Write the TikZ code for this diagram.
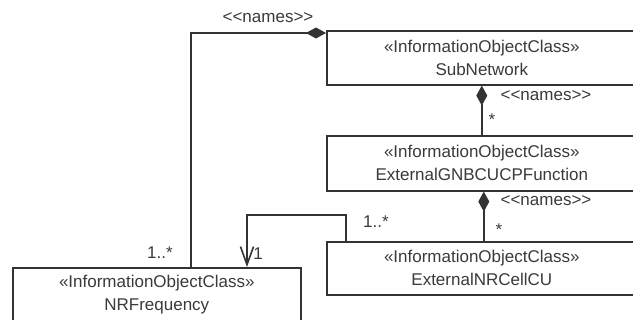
\documentclass[tikz,border=0pt]{standalone}
\usepackage{fontspec}
\setmainfont{Liberation Sans}
\usetikzlibrary{arrows.meta,calc}
\definecolor{ln}{HTML}{333333}
\definecolor{tx}{HTML}{3A3A3A}
\newcommand{\nm}{<\kern0pt<names>\kern0pt>}
\begin{document}
\begin{tikzpicture}[x=1pt,y=-1pt,
  ioc/.style={draw=ln,line width=1.6pt,rectangle,anchor=north west,minimum width=310pt,minimum height=54pt,inner sep=0pt,align=center,text=tx,font=\fontsize{17}{23}\selectfont},
  conn/.style={draw=ln,line width=1.6pt},
  lbl/.style={text=tx,font=\fontsize{17}{20}\selectfont,inner sep=0pt},
  comp/.style={conn,{Diamond[length=20pt,width=11pt,fill=ln]}-},
  nav/.style={conn,-{Straight Barb[length=18pt,width=13pt]}}
]
\useasboundingbox (0,0) rectangle (633,320);
\clip (0,0) rectangle (633,320);
\fill[white] (0,0) rectangle (633,320);

\node[ioc] (sub) at (326,30) {«InformationObjectClass»\\SubNetwork};
\node[ioc,minimum height=55pt] (gnb) at (326,135) {«InformationObjectClass»\\ExternalGNBCUCPFunction};
\node[ioc,minimum height=53pt] (cell) at (326,241) {«InformationObjectClass»\\ExternalNRCellCU};
\node[ioc,minimum width=288pt] (nrf) at (12,267) {«InformationObjectClass»\\NRFrequency};

% SubNetwork -> NRFrequency
\draw[comp] ([yshift=-3pt]sub.north west) -| ([xshift=179pt]nrf.north west);
% SubNetwork -> ExternalGNBCUCPFunction
\draw[comp] (sub.south) -- (sub.south |- gnb.north);
% ExternalGNBCUCPFunction -> ExternalNRCellCU
\draw[comp] ([xshift=2pt]gnb.south) -- ([xshift=2pt]gnb.south |- cell.north);
% ExternalNRCellCU -> NRFrequency
\coordinate (bend) at (0,215);
\draw[nav] ([xshift=20pt]cell.north west) |- ([xshift=235pt]nrf.north west |- bend) -- ([xshift=235pt]nrf.north west);

\node[lbl] (l1) at (268,18) {\nm};
\node[lbl] (l2) at (546,96) {\nm};
\node[lbl] (l3) at (546,201) {\nm};
\node[lbl] (s2) at (492,120) {*};
\node[lbl] (s3) at (499,230) {*};
\node[lbl] (m1) at (160,253) {1..*};
\node[lbl] (m2) at (376,222) {1..*};
\node[lbl] (m3) at (258,254) {1};
\end{tikzpicture}
\end{document}
